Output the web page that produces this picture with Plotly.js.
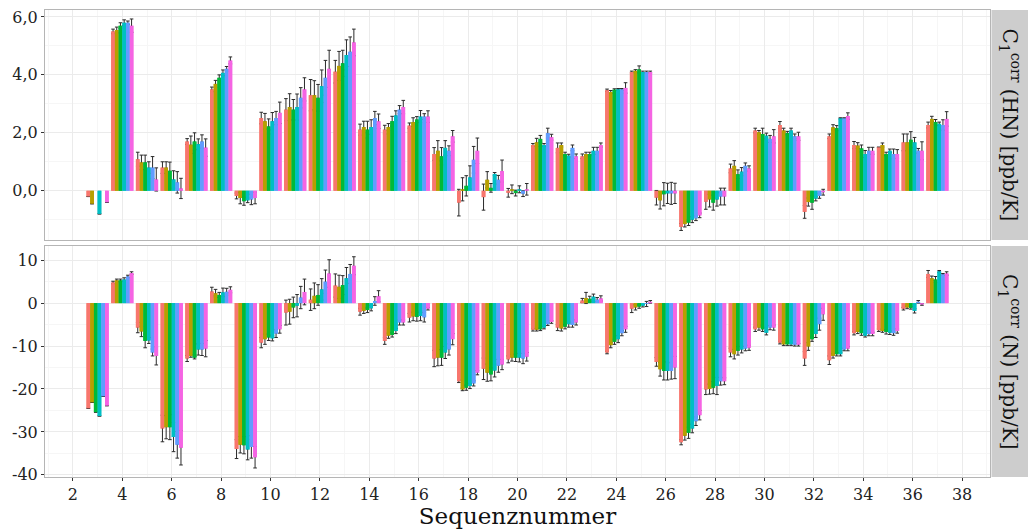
<!DOCTYPE html>
<html>
<head>
<meta charset="utf-8">
<script src="https://cdn.plot.ly/plotly-3.0.1.min.js"></script>
<style>html,body{margin:0;padding:0;background:#fff;}#chart{width:1028px;height:529px;}</style>
</head>
<body>
<div id="chart"></div>
<script>
// Sequence numbers (residues)
const residues = [3,4,5,6,7,8,9,10,11,12,13,14,15,16,17,18,19,20,21,22,23,24,25,26,27,28,29,30,31,32,33,34,35,36,37];
const seriesNames = ["Serie 1","Serie 2","Serie 3","Serie 4","Serie 5","Serie 6"];
const seriesColors = ["#F8766D","#B79F00","#00BA38","#00BFC4","#619CFF","#F564E3"];

// Panel 1: C1corr(HN) [ppb/K]
const hn1 = [-0.2,5.50,1.09,0.80,1.70,3.50,-0.18,2.51,2.80,3.30,4.11,2.11,2.11,2.25,1.27,-0.41,-0.22,-0.07,1.58,1.48,1.19,3.47,4.10,-0.24,-1.25,-0.38,0.77,2.08,2.27,-0.73,1.88,1.58,1.50,1.67,2.27];
const hn2 = [-0.45,5.55,0.98,0.80,1.59,3.69,-0.25,2.40,2.89,3.30,4.31,2.20,2.20,2.37,1.38,0.05,0.38,0.05,1.67,1.58,1.27,3.41,4.14,-0.33,-1.15,-0.30,0.86,2.02,2.08,-0.39,2.19,1.56,1.58,1.67,2.48];
const hn3 = [null,5.70,0.98,0.69,1.70,3.90,-0.36,2.22,2.80,3.21,4.40,2.11,2.40,2.46,1.19,0.17,0.10,-0.08,1.79,1.27,1.27,3.49,4.19,-0.12,-1.10,-0.41,0.57,1.96,1.99,-0.41,2.16,1.46,1.27,1.76,2.37];
const hn4 = [-0.8,5.80,0.80,0.39,1.61,4.07,-0.33,2.40,2.89,3.61,4.69,2.20,2.60,2.56,1.48,0.46,0.58,0.05,1.58,1.21,1.38,3.50,4.10,-0.09,-1.00,-0.30,0.66,1.90,2.08,-0.27,2.50,1.27,1.38,1.67,2.31];
const hn5 = [null,5.80,0.80,0.29,1.70,4.21,-0.30,2.51,3.21,3.90,4.80,2.51,2.80,2.56,1.38,1.07,0.38,-0.10,1.99,1.48,1.38,3.50,4.10,-0.09,-0.95,-0.20,0.86,1.79,1.88,-0.18,2.50,1.38,1.27,1.38,2.27];
const hn6 = [-0.4,5.70,0.39,0.08,1.49,4.50,-0.25,2.69,3.50,4.21,5.12,2.40,2.89,2.56,1.88,1.38,0.68,0.05,1.85,1.19,1.58,3.55,4.10,-0.09,-0.85,-0.20,0.77,1.88,1.88,-0.05,2.58,1.38,1.27,1.38,2.48];

const hnErr1 = [null,0.08,0.24,0.2,0.1,0.08,0.1,0.2,0.38,0.54,0.39,0.19,0.15,0.09,0.22,0.46,0.45,0.15,0.05,0.17,0.08,0.04,0.03,0.25,0.12,0.26,0.15,0.08,0.12,0.22,0.08,0.12,0.01,0.29,0.1];
const hnErr2 = [null,0.1,0.25,0.2,0.3,0.12,0.2,0.27,0.46,0.5,0.5,0.2,0.12,0.15,0.35,0.4,0.28,0.15,0.14,0.07,0.06,0.05,0.04,0.3,0.1,0.26,0.18,0.06,0.08,0.14,0.09,0.1,0.07,0.29,0.09];
const hnErr3 = [null,0.1,0.25,0.3,0.3,0.1,0.14,0.26,0.35,0.46,0.45,0.29,0.17,0.1,0.3,0.35,0.15,0.1,0.12,0.06,0.06,0.03,0.12,0.4,0.1,0.26,0.15,0.2,0.06,0.23,0.09,0.12,0.06,0.28,0.09];
const hnErr4 = [null,0.1,0.2,0.3,0.18,0.1,0.08,0.3,0.45,0.56,0.52,0.25,0.16,0.21,0.25,0.4,0.05,0.12,0.05,0.05,0.12,0.03,0.03,0.35,0.1,0.23,0.14,0.09,0.08,0.08,0.02,0.12,0.06,0.17,0.06];
const hnErr5 = [null,0.06,0.38,0.37,0.23,0.08,0.18,0.23,0.35,0.6,0.51,0.23,0.14,0.1,0.17,0.46,0.15,0.1,0.17,0.1,0.12,0.03,0.03,0.38,0.08,0.29,0.1,0.12,0.08,0.08,0.02,0.12,0.17,0.08,0.18];
const hnErr6 = [null,0.23,0.4,0.35,0.3,0.12,0.2,0.37,0.4,0.64,0.46,0.25,0.23,0.2,0.2,0.44,0.38,0.2,0.1,0.08,0.07,0.18,0.03,0.35,0.08,0.29,0.09,0.23,0.14,0.1,0.11,0.12,0.15,0.31,0.25];

// Panel 2: C1corr(N) [ppb/K]
const n1 = [-24.5,4.8,-5.7,-29.2,-12.9,2.7,-34.0,-9.2,-2.2,0.8,4.1,-2.0,-8.8,-3.4,-12.9,-18.2,-15.3,-13.1,-6.2,-5.7,0.6,-11.5,-1.3,-13.7,-32.4,-20.1,-11.5,-6.1,-9.2,-12.9,-13.3,-7.0,-6.3,-1.3,6.8];
const n2 = [-23.1,5.3,-6.6,-28.9,-12.3,2.3,-33.0,-8.4,-2.0,1.7,3.8,-1.8,-7.6,-3.1,-12.7,-20.1,-16.2,-12.7,-6.2,-5.9,1.2,-9.8,-1.0,-15.4,-30.9,-20.0,-11.9,-5.7,-9.6,-10.1,-12.3,-6.7,-6.5,-1.0,5.8];
const n3 = [-25.4,5.3,-8.8,-28.9,-12.7,1.9,-33.1,-8.0,-1.0,1.9,4.2,-1.6,-7.4,-3.2,-12.7,-19.7,-16.6,-12.7,-6.1,-5.5,1.0,-9.0,-0.8,-15.8,-30.2,-19.7,-11.1,-6.1,-9.6,-8.4,-11.9,-7.0,-6.7,-1.1,5.5];
const n4 = [-26.3,5.5,-8.7,-31.2,-10.8,2.5,-34.1,-8.2,-0.6,3.2,5.8,-1.2,-6.5,-3.0,-11.5,-19.3,-15.7,-12.7,-5.7,-4.9,1.5,-8.4,-0.6,-15.8,-29.2,-19.3,-10.8,-6.9,-9.6,-7.2,-11.9,-7.6,-6.9,-1.8,7.4];
const n5 = [-21.7,6.2,-11.5,-33.0,-10.8,2.65,-33.5,-7.1,1.3,5.0,6.8,0.5,-4.5,-3.3,-10.8,-18.7,-14.6,-12.9,-4.9,-5.1,0.8,-7.0,-0.2,-15.8,-27.5,-18.2,-10.6,-5.7,-9.7,-4.9,-10.8,-7.2,-7.0,0.3,6.7];
const n6 = [-23.9,7.0,-12.3,-33.7,-10.6,3.1,-35.9,-6.1,2.6,6.9,8.7,1.6,-4.5,-1.3,-8.4,-16.2,-14.3,-12.5,-4.4,-4.5,1.1,-6.1,0.3,-15.0,-26.1,-18.2,-10.4,-5.7,-9.7,-2.6,-10.6,-7.2,-6.5,-0.3,6.9];

const nErr1 = [null,0.3,1.2,3.1,0.7,1.0,2.2,1.2,2.9,2.5,2.7,0.8,0.8,1.0,1.9,0.3,2.5,0.8,0.3,0.7,0.5,0.3,0.9,1.0,0.6,1.2,1.0,0.5,0.3,1.6,1.0,0.4,0.3,0.3,0.8];
const nErr2 = [null,0.3,1.2,2.7,0.3,0.9,1.9,1.2,2.9,3.0,2.7,0.6,0.6,1.0,1.9,0.3,2.0,0.8,0.3,0.6,1.3,0.6,0.6,1.6,1.0,1.2,1.1,0.6,0.3,0.9,0.5,0.4,0.3,0.3,0.5];
const nErr3 = [null,0.3,1.6,2.9,0.3,0.6,2.0,0.7,2.4,2.4,2.2,0.6,0.5,1.0,1.8,0.6,1.5,0.9,0.3,0.5,0.6,0.6,0.4,2.1,1.3,1.4,1.0,0.5,0.3,0.5,0.4,0.5,0.5,0.3,0.7];
const nErr4 = [null,0.4,0.7,3.4,1.3,1.0,2.4,0.6,2.6,2.5,2.5,0.6,0.6,1.1,1.4,0.6,1.5,1.0,0.3,0.7,0.6,0.8,0.3,2.1,1.0,2.0,0.8,0.5,0.3,0.8,0.4,0.3,0.4,0.5,0.2];
const nErr5 = [null,0.3,0.8,3.1,1.4,0.8,2.6,0.9,2.6,2.7,2.2,1.0,0.6,1.1,1.3,0.6,1.5,1.2,0.3,0.5,0.5,0.6,0.6,1.9,1.0,0.9,0.5,0.5,0.3,1.4,0.3,0.4,0.5,0.3,0.2];
const nErr6 = [null,0.3,2.1,4.0,1.9,0.7,2.5,0.9,3.0,3.2,2.1,1.3,0.6,0.3,1.3,0.5,1.2,1.0,0.3,0.6,0.6,0.7,0.3,2.6,1.1,0.8,0.6,0.6,0.3,1.4,0.5,0.4,0.5,0.2,0.4];

// Axis ticks
const xTicks = [2,4,6,8,10,12,14,16,18,20,22,24,26,28,30,32,34,36,38];
const xTickText = ["2","4","6","8","10","12","14","16","18","20","22","24","26","28","30","32","34","36","38"];
const xMinor = [1,3,5,7,9,11,13,15,17,19,21,23,25,27,29,31,33,35,37,39];
const yTopTicks = [0,2,4,6];
const yTopText = ["0,0","2,0","4,0","6,0"];
const yTopMinor = [-1,1,3,5];
const yBotTicks = [-40,-30,-20,-10,0,10];
const yBotText = ["-40","-30","-20","-10","0","10"];
const yBotMinor = [-35,-25,-15,-5,5];
const stripTop = "C<sub>1</sub><sup>corr</sup> (HN) [ppb/K]";
const stripBot = "C<sub>1</sub><sup>corr</sup> (N) [ppb/K]";
const xTitle = "Sequenznummer";

const hnVals = [hn1,hn2,hn3,hn4,hn5,hn6];
const hnErrs = [hnErr1,hnErr2,hnErr3,hnErr4,hnErr5,hnErr6];
const nVals = [n1,n2,n3,n4,n5,n6];
const nErrs = [nErr1,nErr2,nErr3,nErr4,nErr5,nErr6];

const FONT = "DejaVu Serif, serif";
const traces = [];
function addTraces(withErr) {
  for (let i = 0; i < 6; i++) {
    const base = {type:'bar', name: seriesNames[i], showlegend:false, offsetgroup:'g'+i,
      marker:{color: seriesColors[i], line:{width:0}}, hoverinfo:'skip'};
    traces.push(Object.assign({}, base, {x: residues, y: hnVals[i], xaxis:'x', yaxis:'y',
      error_y: withErr ? {type:'data', array: hnErrs[i], visible:true, color:'#2b2b2b', thickness:1, width:1.8} : {visible:false}}));
    traces.push(Object.assign({}, base, {x: residues, y: nVals[i], xaxis:'x2', yaxis:'y2',
      error_y: withErr ? {type:'data', array: nErrs[i], visible:true, color:'#2b2b2b', thickness:1, width:1.8} : {visible:false}}));
  }
}
addTraces(true);
addTraces(false);

const gridMajor = '#EBEBEB', gridMinor = '#F6F6F6', border = '#B5B5B5';
const xRange = [0.87, 39.13];
const topDom = [0.5075, 1], botDom = [0, 0.4946];

const layout = {
  width:1028, height:529,
  margin:{l:45, r:38, t:10, b:52},
  paper_bgcolor:'#fff', plot_bgcolor:'#fff',
  barmode:'group', bargap:0.1, bargroupgap:0,
  font:{family:FONT, color:'#333'},
  xaxis:{domain:[0,1], anchor:'y', range:xRange, tickmode:'array', tickvals:xTicks, ticktext:xTickText,
    showticklabels:false, ticks:'', showgrid:true, gridcolor:gridMajor, gridwidth:1,
    minor:{tickmode:'array', tickvals:xMinor, showgrid:true, gridcolor:gridMinor, ticks:''},
    showline:true, mirror:true, linecolor:border, linewidth:1, zeroline:false},
  yaxis:{domain:topDom, anchor:'x', range:[-1.70, 6.24], tickmode:'array', tickvals:yTopTicks, ticktext:yTopText,
    ticks:'outside', ticklen:3, tickcolor:'#333', tickfont:{family:FONT, size:16, color:'#222'},
    showgrid:true, gridcolor:gridMajor,
    minor:{tickmode:'array', tickvals:yTopMinor, showgrid:true, gridcolor:gridMinor, ticks:''},
    showline:true, mirror:true, linecolor:border, linewidth:1, zeroline:false},
  xaxis2:{domain:[0,1], anchor:'y2', range:xRange, tickmode:'array', tickvals:xTicks, ticktext:xTickText,
    ticks:'outside', ticklen:3, tickcolor:'#333', tickfont:{family:FONT, size:16, color:'#222'},
    showgrid:true, gridcolor:gridMajor,
    minor:{tickmode:'array', tickvals:xMinor, showgrid:true, gridcolor:gridMinor, ticks:''},
    showline:true, mirror:true, linecolor:border, linewidth:1, zeroline:false,
    title:{text:xTitle, font:{family:FONT, size:23, color:'#111'}, standoff:3}},
  yaxis2:{domain:botDom, anchor:'x2', range:[-40.5, 13.3], tickmode:'array', tickvals:yBotTicks, ticktext:yBotText,
    ticks:'outside', ticklen:3, tickcolor:'#333', tickfont:{family:FONT, size:16, color:'#222'},
    showgrid:true, gridcolor:gridMajor,
    minor:{tickmode:'array', tickvals:yBotMinor, showgrid:true, gridcolor:gridMinor, ticks:''},
    showline:true, mirror:true, linecolor:border, linewidth:1, zeroline:false},
  shapes:[
    {type:'rect', xref:'paper', yref:'paper', x0:1.0016, x1:1.06, y0:topDom[0], y1:topDom[1], fillcolor:'#CDCDCD', line:{width:0}, layer:'below'},
    {type:'rect', xref:'paper', yref:'paper', x0:1.0016, x1:1.06, y0:botDom[0], y1:botDom[1], fillcolor:'#CDCDCD', line:{width:0}, layer:'below'}
  ],
  annotations:[
    {xref:'paper', yref:'paper', x:1.0206, y:(topDom[0]+topDom[1])/2, text:stripTop, textangle:90, showarrow:false,
      font:{family:FONT, size:20, color:'#111'}, xanchor:'center', yanchor:'middle'},
    {xref:'paper', yref:'paper', x:1.0206, y:(botDom[0]+botDom[1])/2, text:stripBot, textangle:90, showarrow:false,
      font:{family:FONT, size:20, color:'#111'}, xanchor:'center', yanchor:'middle'}
  ]
};

Plotly.newPlot('chart', traces, layout, {staticPlot:true, displayModeBar:false});
</script>
</body>
</html>
